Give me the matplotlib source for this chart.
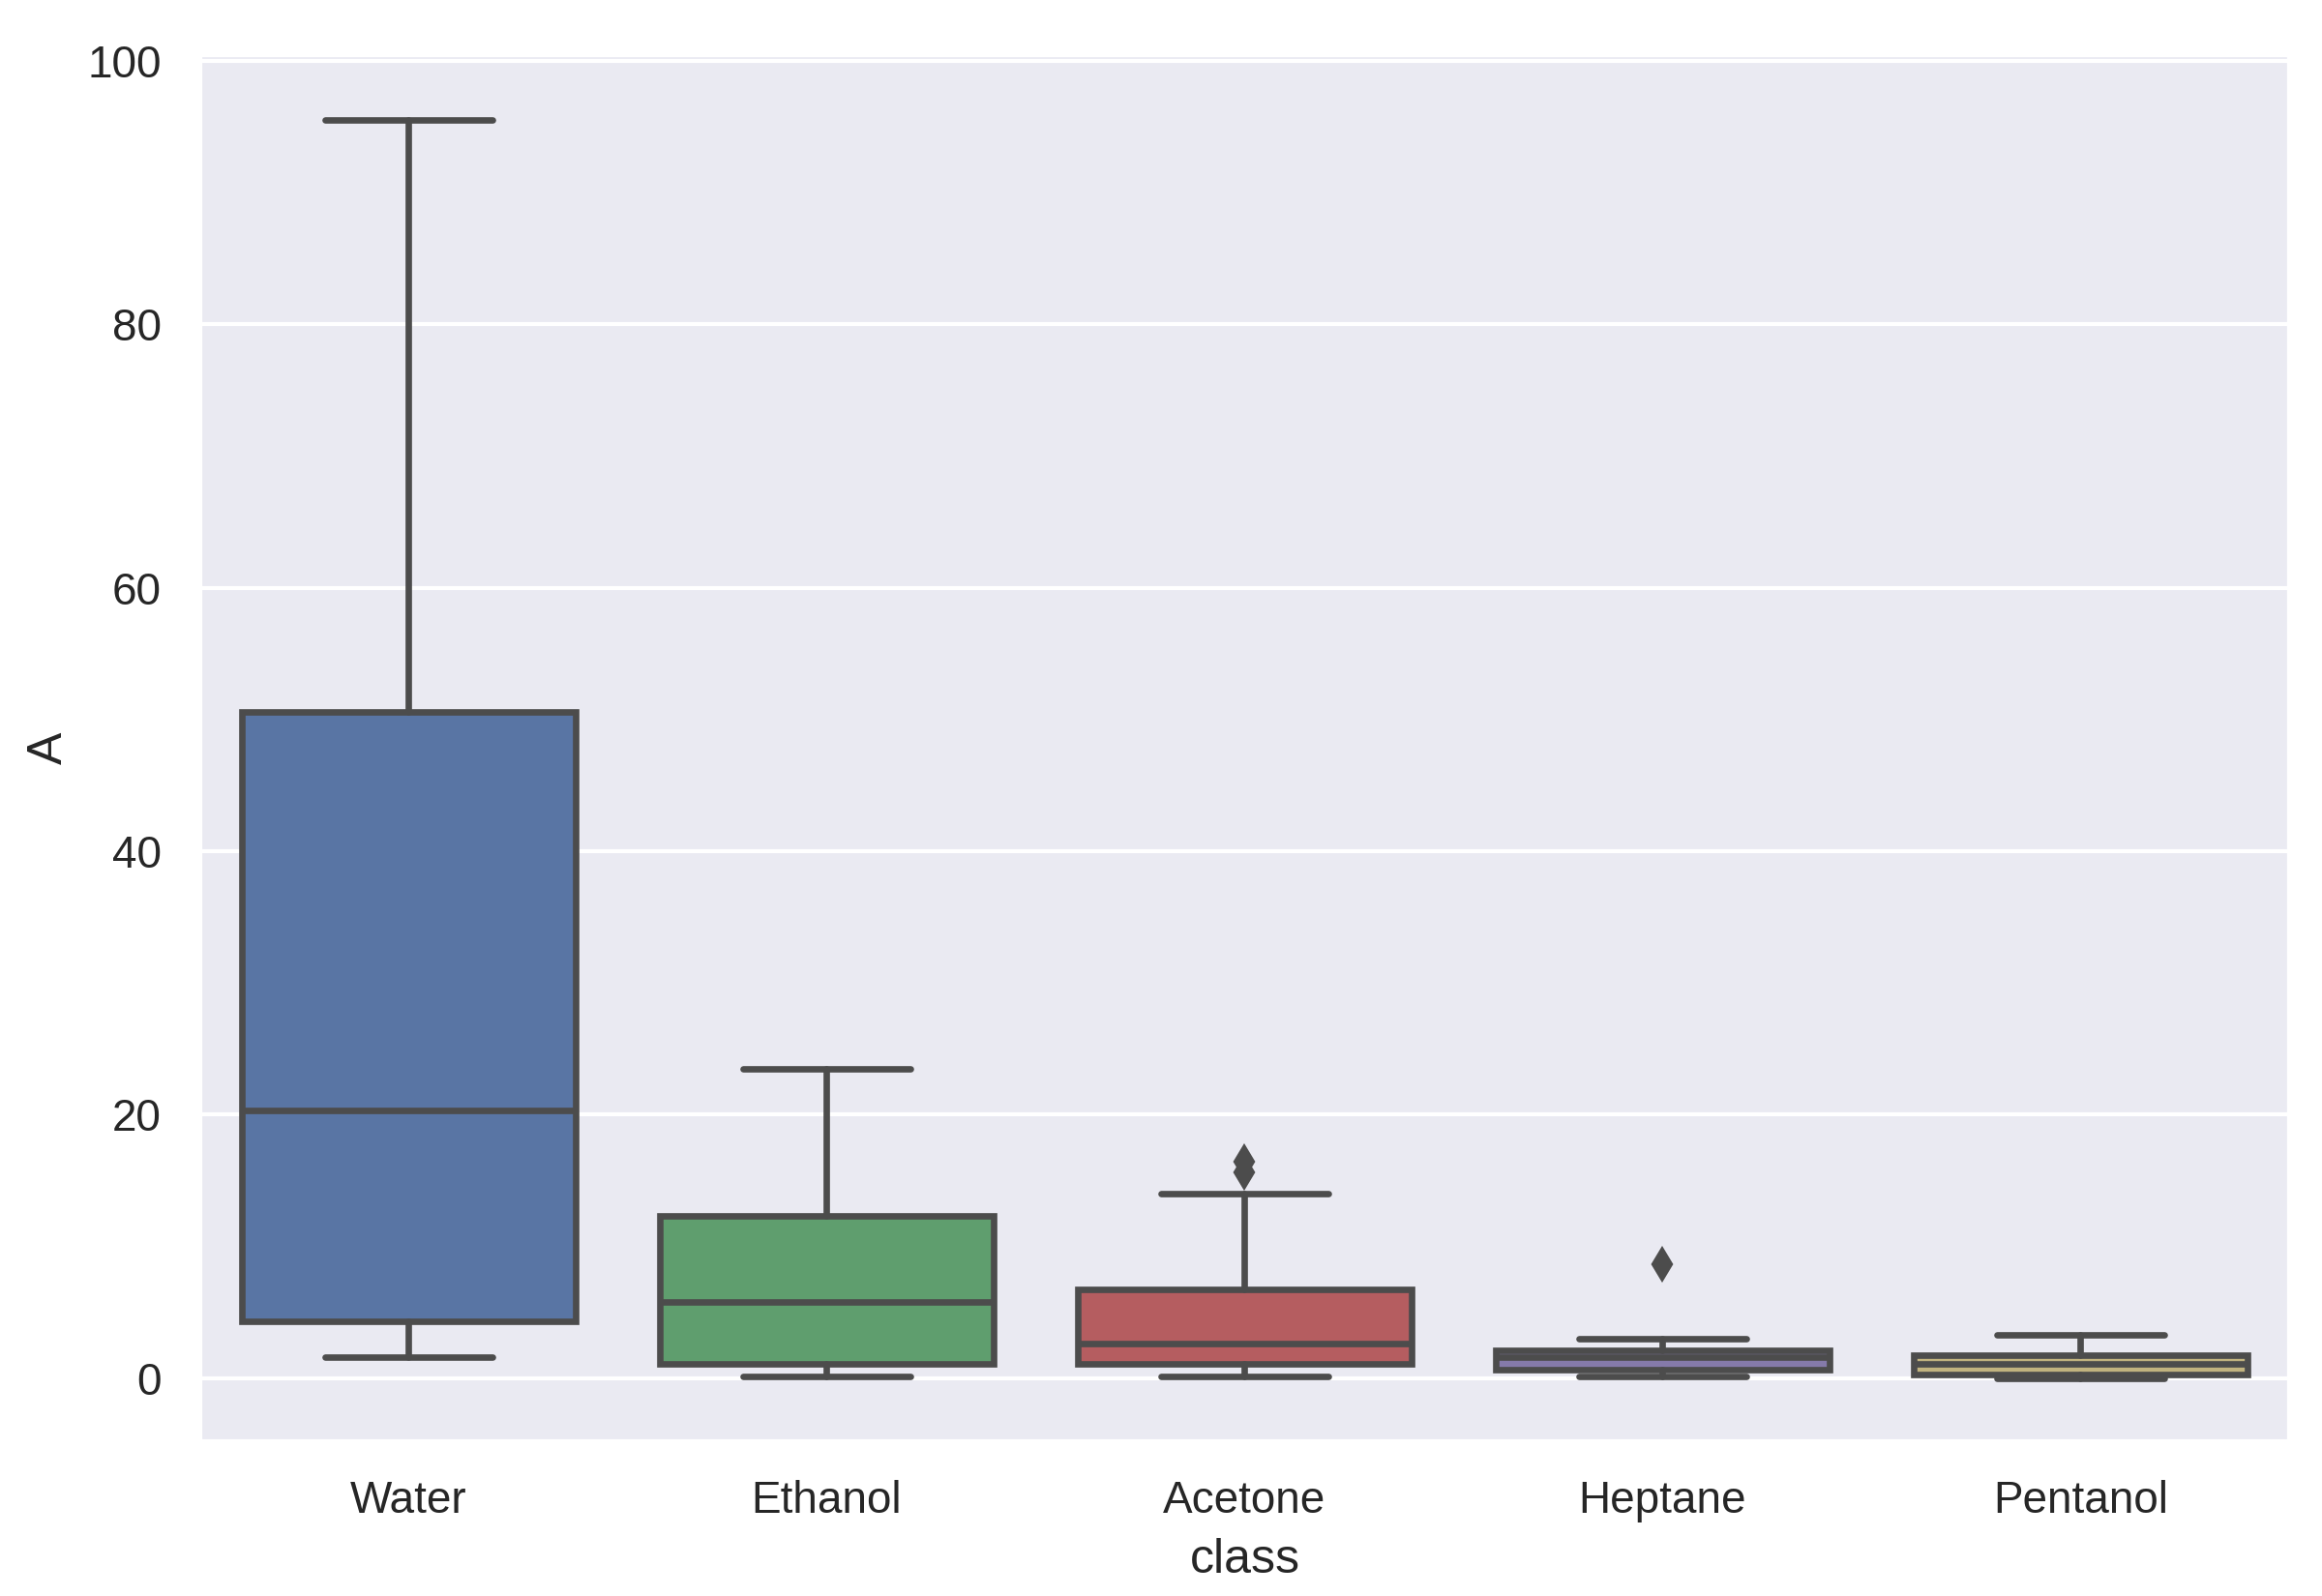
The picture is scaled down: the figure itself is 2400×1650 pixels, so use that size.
import matplotlib
matplotlib.use("Agg")
import matplotlib.pyplot as plt
import seaborn as sns

sns.set_theme(style="darkgrid")
plt.rcParams["font.family"] = ["Liberation Sans", "DejaVu Sans"]

classes = ["Water", "Ethanol", "Acetone", "Heptane", "Pentanol"]
whisker_low = [1.6, 0.1, 0.1, 0.1, 0.0]
q1 = [4.3, 1.1, 1.1, 0.6, 0.3]
median = [20.3, 5.8, 2.6, 1.6, 1.1]
q3 = [50.6, 12.3, 6.7, 2.1, 1.7]
whisker_high = [95.5, 23.5, 14.0, 3.0, 3.3]
fliers = [[], [], [16.4, 15.6], [8.6], []]

# old seaborn "deep" palette, desaturated like seaborn boxplot does
base = ["#4C72B0", "#55A868", "#C44E52", "#8172B2", "#CCB974"]
colors = [sns.desaturate(c, 0.75) for c in base]

stats = []
for i, c in enumerate(classes):
    stats.append(dict(label=c, whislo=whisker_low[i], q1=q1[i], med=median[i],
                      q3=q3[i], whishi=whisker_high[i], fliers=fliers[i]))

fig, ax = plt.subplots(figsize=(8, 5.5), dpi=300)
line = "#4c4c4c"
lw = 1.6
bp = ax.bxp(stats, positions=range(len(classes)), widths=0.8, patch_artist=True,
            boxprops=dict(edgecolor=line, linewidth=lw),
            medianprops=dict(color=line, linewidth=lw),
            whiskerprops=dict(color=line, linewidth=lw),
            capprops=dict(color=line, linewidth=lw),
            flierprops=dict(marker="d", markerfacecolor=line, markeredgecolor=line, markersize=5))
for patch, col in zip(bp["boxes"], colors):
    patch.set_facecolor(col)

ax.grid(axis="x", visible=False)
ax.set_xlim(-0.5, 4.5)
ax.set_ylim(-4.8, 100.5)
ax.set_xlabel("class")
ax.set_ylabel("A")
fig.subplots_adjust(left=0.086, right=0.986, top=0.966, bottom=0.097)
fig.savefig("out.png", dpi=300)
